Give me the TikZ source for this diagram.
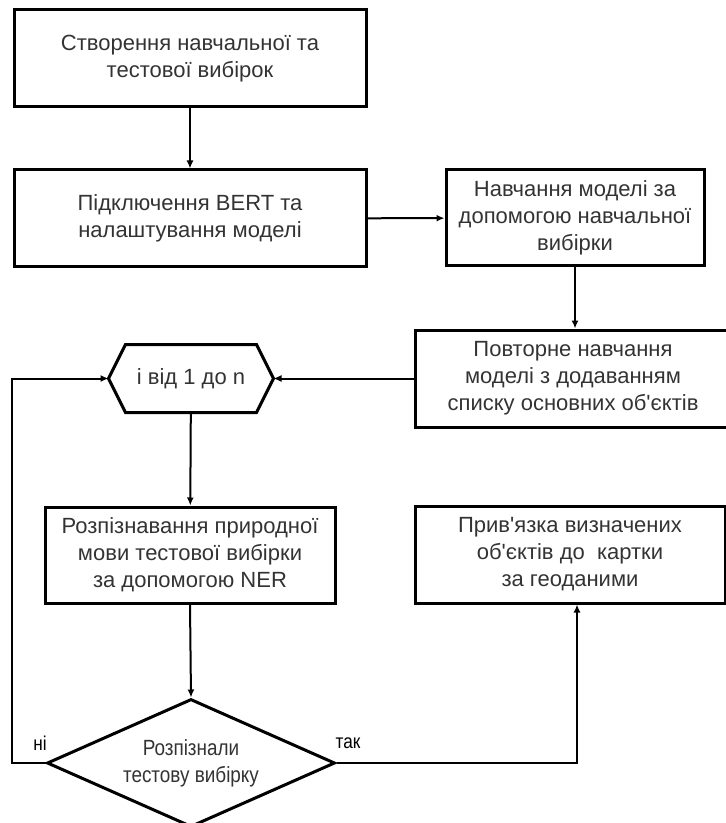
\documentclass[tikz,border=0pt]{standalone}
\usepackage{fontspec}
\setmainfont{Liberation Sans}
\newfontfamily\narrowsans{Liberation Sans}[FakeStretch=0.86]
\usetikzlibrary{shapes.geometric,arrows.meta,calc}
\begin{document}
\begin{tikzpicture}[x=0.5pt,y=-0.5pt]
    \tikzset{block/.style={draw,line width=1.5pt,align=center,inner sep=0pt,text=black!80,font=\fontsize{11}{13.5}\selectfont}};
    \tikzset{flow/.style={line width=1pt,-{Latex[length=4pt,width=3.5pt]}}};
    \tikzset{answer/.style={font=\narrowsans\fontsize{10}{12}\selectfont,text=black}};
    \useasboundingbox (0,0) rectangle (726,823);
    \node[block,minimum width=176pt,minimum height=48.5pt] (init) at (190,58.5) {Створення навчальної та\\тестової вибірок};
    \node[block,minimum width=176pt,minimum height=48.5pt] (bert) at (190,218.5) {Підключення BERT та\\налаштування моделі};
    \node[block,minimum width=129pt,minimum height=48pt] (train) at (575,218) {Навчання моделі за\\допомогою навчальної\\вибірки};
    \node[block,minimum width=158pt,minimum height=48.5pt] (retrain) at (573,378.5) {Повторне навчання\\моделі з додаванням\\списку основних об\textquotesingle єктів};
    \node[block,draw=none,minimum width=81pt,minimum height=32.5pt] (loop) at (191,378.5) {і від 1 до n};
    \draw[line width=1.5pt] ([xshift=8.5pt]loop.north west) -- ([xshift=-8.5pt]loop.north east) -- (loop.east)
        -- ([xshift=-8.5pt]loop.south east) -- ([xshift=8.5pt]loop.south west) -- (loop.west) -- cycle;
    \node[block,minimum width=145pt,minimum height=48pt] (ner) at (190,555) {Розпізнавання природної\\мови тестової вибірки\\за допомогою NER};
    \node[block,minimum width=155pt,minimum height=48.5pt] (geo) at (570,554.5) {Прив\textquotesingle язка визначених\\об\textquotesingle єктів до\ \ картки\\за геоданими};
    \node[block,diamond,aspect=2.25,minimum width=144pt,minimum height=64pt,font=\narrowsans\fontsize{11}{13.5}\selectfont] (check) at (191,763) {Розпізнали\\тестову вибірку};
    \draw[flow] (init) -- (bert);
    \draw[flow] (bert) -- (train);
    \draw[flow] (train.south) -- (train.south |- retrain.north);
    \draw[flow] (retrain) -- (loop);
    \draw[flow] (loop) -- (ner);
    \draw[flow] (ner.south) -- (check.north);
    \draw[flow] (check.west) -- ++(-34,0) |- (loop.west);
    \draw[flow] (check.east) -| ([xshift=3.5pt]geo.south);
    \node[answer] (no) at (40,743) {ні};
    \node[answer] (yes) at (348,743) {так};
\end{tikzpicture}
\end{document}
